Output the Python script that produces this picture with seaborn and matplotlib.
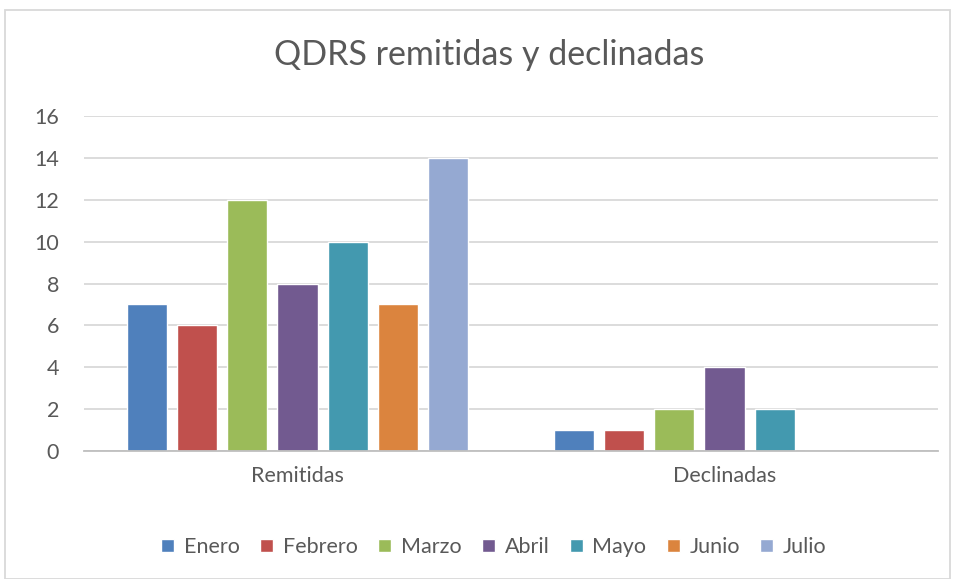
import matplotlib
matplotlib.use("Agg")
import matplotlib.pyplot as plt
import seaborn as sns
import pandas as pd
from matplotlib.patches import Rectangle

categories = ["Remitidas", "Declinadas"]
months = ["Enero", "Febrero", "Marzo", "Abril", "Mayo", "Junio", "Julio"]
remitidas = [7, 6, 12, 8, 10, 7, 14]
declinadas = [1, 1, 2, 4, 2, 0, 0]
colors = ["#4F80BC", "#C0504D", "#9BBB59", "#725A90", "#4399AF", "#DB843E", "#95A9D2"]
yticks = [0, 2, 4, 6, 8, 10, 12, 14, 16]

rows = []
for m, r, d in zip(months, remitidas, declinadas):
    rows.append({"cat": categories[0], "mes": m, "val": r})
    rows.append({"cat": categories[1], "mes": m, "val": d})
df = pd.DataFrame(rows)

sns.set_theme(style="white")
plt.rcParams['font.family'] = ['Lato', 'DejaVu Sans']
text_color = "#595959"

fig = plt.figure(figsize=(9.54, 5.79), dpi=100)
ax = fig.add_axes([84/954, 1-451/579, (938-84)/954, (451-116)/579])

sns.barplot(data=df, x="cat", y="val", hue="mes", order=categories, hue_order=months,
            palette=colors, width=0.82, gap=0.2, ax=ax, legend=True, saturation=1)

ax.set_ylim(0, 16)
ax.set_yticks(yticks)
ax.set_xlim(-0.5, 1.5)
ax.yaxis.grid(True, color="#D9D9D9", linewidth=1.3)
ax.set_axisbelow(True)
for s in ["top", "right", "left"]:
    ax.spines[s].set_visible(False)
ax.spines["bottom"].set_color("#BFBFBF")
ax.spines["bottom"].set_linewidth(1.3)
ax.tick_params(axis="both", length=0, colors=text_color, labelsize=15.5)
ax.tick_params(axis="y", pad=18)
ax.tick_params(axis="x", pad=11)
ax.set_xlabel("")
ax.set_ylabel("")
for lbl in ax.get_yticklabels():
    lbl.set_horizontalalignment("right")

fig.text(489/954, 1-55/579, "QDRS remitidas y declinadas", ha="center", va="center",
         fontsize=24.5, color=text_color)

handles, labels = ax.get_legend_handles_labels()
ax.legend_.remove()
fig.legend(handles, labels, loc="center", bbox_to_anchor=(494/954, 1-547/579), ncol=7,
           frameon=False, fontsize=15.5, labelcolor=text_color, handlelength=0.6,
           handleheight=0.6, handletextpad=0.45, columnspacing=0.95)

fig.patches.append(Rectangle((5/954, 0), (950-5)/954, 1-10/579, transform=fig.transFigure,
                             fill=False, edgecolor="#D9D9D9", linewidth=1.3))

fig.savefig("out.png", dpi=100)
